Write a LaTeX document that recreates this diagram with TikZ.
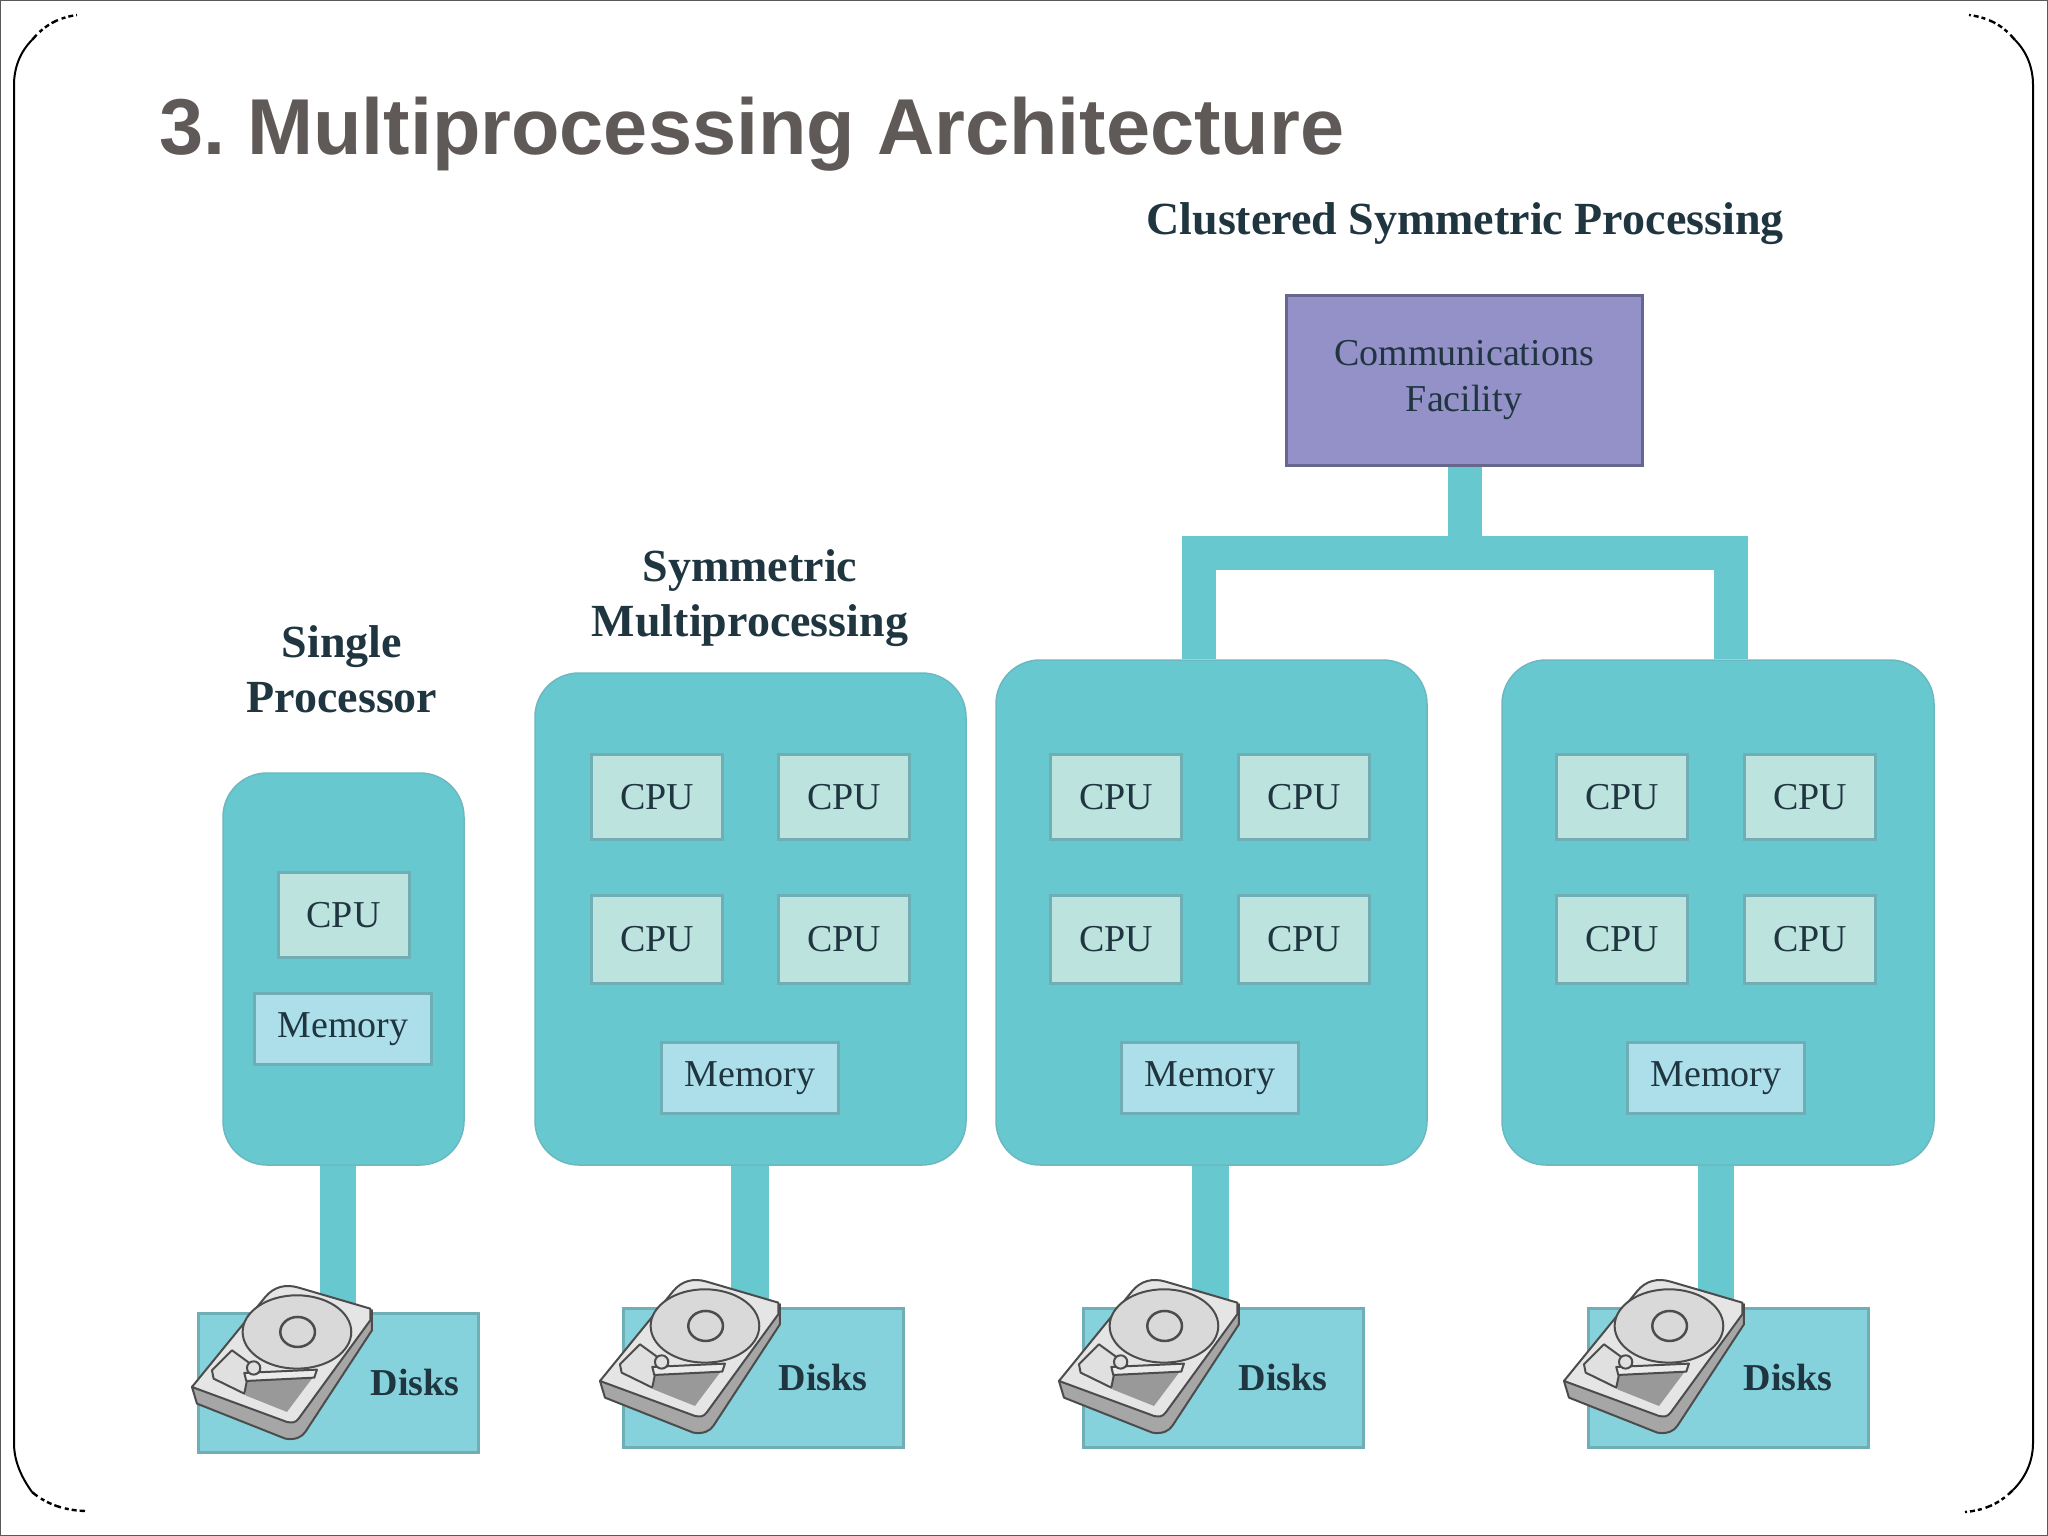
\documentclass[tikz,border=0pt]{standalone}
\usepackage{fontspec}
\setmainfont{Liberation Serif}
\newfontfamily\titlefont{Liberation Sans}
\definecolor{panelcol}{HTML}{68C8D0}
\definecolor{edgecol}{HTML}{6FAEB5}
\definecolor{cpucol}{HTML}{BCE3DE}
\definecolor{memcol}{HTML}{ADDFEA}
\definecolor{diskcol}{HTML}{85D2DC}
\definecolor{commcol}{HTML}{9490C8}
\definecolor{commedge}{HTML}{66668F}
\definecolor{inkcol}{HTML}{1F3540}
\definecolor{titlecol}{HTML}{5F5A58}
\definecolor{metalcol}{HTML}{D9D9D9}
\tikzset{
  panel/.style={draw=edgecol!60!panelcol, line width=1.5pt, fill=panelcol, rounded corners=44pt, inner sep=0pt},
  cpubox/.style={draw=edgecol, line width=3pt, fill=cpucol, text=inkcol, minimum width=131pt, minimum height=85pt,
    inner sep=0pt, font=\fontsize{38}{46}\selectfont},
  membox/.style={cpubox, fill=memcol, minimum width=177pt, minimum height=71pt},
  diskbox/.style={draw=edgecol, line width=3pt, fill=diskcol, minimum width=280pt, minimum height=139pt, inner sep=0pt},
  disklabel/.style={text=inkcol, inner sep=0pt, font=\fontsize{38}{45}\selectfont\bfseries},
  heading/.style={text=inkcol, inner sep=0pt, align=center, font=\fontsize{46}{55}\selectfont\bfseries},
  busline/.style={draw=panelcol, line width=34pt},
  rimline/.style={black, line width=2pt},
  rimtail/.style={black, line width=2.4pt, dash pattern=on 7pt off 4pt on 4pt off 3pt on 5pt off 3pt},
  hdd/.pic={
    \begin{scope}[shift={(-126.7,-101.7)}, scale=.3333, draw=black!70, line width=2pt, line join=round]
      \draw[fill=black!35] (65,470) -- (80,520) -- (345,625) .. controls (375,630) and (395,620) .. (405,605)
        -- (605,300) -- (605,240) -- cycle;
      \draw[fill=black!10] (65,470) -- (285,200) .. controls (310,170) and (345,160) .. (385,172)
        -- (600,235) -- (600,270) -- (385,565) .. controls (375,578) and (365,578) .. (350,575) -- cycle;
      \draw[fill=black!40, draw=none] (225,445) -- (440,425) -- (350,545) -- (225,495) -- cycle;
      \draw[fill=black!12] (125,420) -- (185,360) -- (240,400) -- (222,490) -- (130,445) -- cycle;
      \draw[fill=metalcol] (380,305) ellipse (163 and 110);
      \draw[fill=black!8] (222,428) -- (440,418) -- (432,442) -- (228,452) -- cycle;
      \draw[fill=black!12] (250,413) circle (20);
      \draw[fill=metalcol, line width=2.5pt] (382,305) ellipse (52 and 45);
    \end{scope}
  }
}
\begin{document}
\begin{tikzpicture}[x=1pt, y=-1pt]
  \useasboundingbox (0,0) rectangle (2048,1536);
  \draw[black!65, line width=2pt] (0,0) rectangle (2048,1536);
  % slide frame
  \draw[rimline] (32,40) .. controls (20,52) and (14,68) .. (14,85) -- (14,1443)
    .. controls (14,1462) and (22,1478) .. (32,1492);
  \draw[rimtail] (32,40) .. controls (42,28) and (55,18) .. (77,15);
  \draw[rimtail] (32,1492) .. controls (44,1502) and (60,1510) .. (85,1511);
  \draw[rimline] (2015,40) .. controls (2027,52) and (2033,68) .. (2033,85) -- (2033,1443)
    .. controls (2033,1462) and (2025,1478) .. (2013,1490);
  \draw[rimtail] (2015,40) .. controls (2005,28) and (1992,18) .. (1969,15);
  \draw[rimtail] (2013,1490) .. controls (2002,1501) and (1988,1510) .. (1965,1512);
  \node[anchor=base west, inner sep=0pt, text=titlecol, font=\titlefont\fontsize{79.3}{90}\selectfont\bfseries]
    (title) at (159,155) {3.\hspace{-7.5pt} Multiprocessing Architecture};

  % single processor
  \node[heading] (singlehead) at (342,669) {Single\\Processor};
  \node[panel, minimum width=241pt, minimum height=392pt] (single) at (343.5,969) {};
  \node[cpubox] (singlecpu) at (343.5,915) {CPU};
  \node[membox] (singlemem) at (343,1029) {Memory};
  \node[diskbox] (singledisk) at (338,1383) {};
  \draw[busline, line width=36pt] (single.south -| singledisk) -- (singledisk.north);
  \pic at (297,1332) {hdd};
  \node[disklabel] (singlelabel) at (415,1382) {Disks};

  % symmetric multiprocessing
  \node[heading] (smphead) at (750,598) {Symmetric\\Multiprocessing};
  \node[panel, minimum width=431pt, minimum height=492pt] (smp) at (750.5,919) {};
  \node[cpubox] (smpcpua) at (657,797) {CPU};
  \node[cpubox] (smpcpub) at (844,797) {CPU};
  \node[cpubox, minimum height=88pt] (smpcpuc) at (657,939) {CPU};
  \node[cpubox, minimum height=88pt] (smpcpud) at (844,939) {CPU};
  \node[membox] (smpmem) at (750,1078) {Memory};
  \node[diskbox] (smpdisk) at (763,1377.5) {};
  \coordinate (smpstem) at (750,1308);
  \draw[busline, line width=38pt] (smpstem |- smp.south) -- (smpstem);
  \pic at (705,1326) {hdd};
  \node[disklabel] (smplabel) at (823,1377) {Disks};

  % clustered symmetric processing
  \node[heading] (clusterhead) at (1465,224) {Clustered Symmetric Processing};
  \node[draw=commedge, line width=3pt, fill=commcol, minimum width=356pt, minimum height=170pt, inner sep=0pt, text=inkcol, align=center,
    font=\fontsize{38}{46}\selectfont] (comm) at (1464,380) {Communications\\Facility};
  \node[panel, minimum width=431pt, minimum height=505pt] (clustera) at (1211.5,912.5) {};
  \node[panel, minimum width=432pt, minimum height=505pt] (clusterb) at (1718,912.5) {};
  \coordinate (busa) at (1199,553);
  \coordinate (busm) at (1464.5,553);
  \coordinate (busb) at (1731,553);
  \draw[busline] (comm.south -| busm) -- (busm);
  \draw[busline] (clustera.north -| busa) -- (busa) -- (busb) -- (clusterb.north -| busb);

  \node[cpubox] (acpua) at (1116,797) {CPU};
  \node[cpubox] (acpub) at (1304,797) {CPU};
  \node[cpubox, minimum height=88pt] (acpuc) at (1116,939) {CPU};
  \node[cpubox, minimum height=88pt] (acpud) at (1304,939) {CPU};
  \node[membox] (amem) at (1210,1078) {Memory};
  \node[diskbox] (adisk) at (1223,1377.5) {};
  \coordinate (astem) at (1210.5,1308);
  \draw[busline, line width=37pt] (astem |- clustera.south) -- (astem);
  \pic at (1164,1326) {hdd};
  \node[disklabel] (alabel) at (1283,1377) {Disks};

  \node[cpubox] (bcpua) at (1622,797) {CPU};
  \node[cpubox] (bcpub) at (1810,797) {CPU};
  \node[cpubox, minimum height=88pt] (bcpuc) at (1622,939) {CPU};
  \node[cpubox, minimum height=88pt] (bcpud) at (1810,939) {CPU};
  \node[membox] (bmem) at (1716,1078) {Memory};
  \node[diskbox] (bdisk) at (1728.5,1377.5) {};
  \coordinate (bstem) at (1716,1308);
  \draw[busline, line width=36pt] (bstem |- clusterb.south) -- (bstem);
  \pic at (1669,1326) {hdd};
  \node[disklabel] (blabel) at (1788,1377) {Disks};
\end{tikzpicture}
\end{document}
